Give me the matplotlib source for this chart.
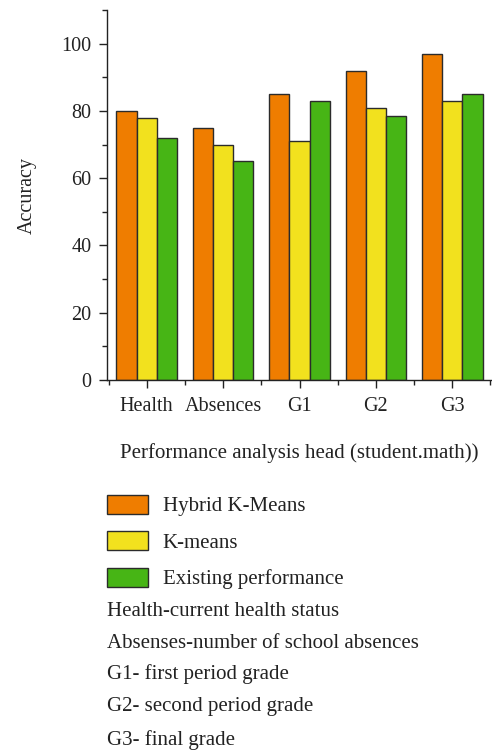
import numpy as np
import matplotlib
matplotlib.use("Agg")
import matplotlib.pyplot as plt
from matplotlib.patches import Patch
from matplotlib.ticker import MultipleLocator

categories = ["Health", "Absences", "G1", "G2", "G3"]
series_names = ["Hybrid K-Means", "K-means", "Existing performance"]
hybrid_kmeans = [80, 75, 85, 92, 97]
kmeans = [78, 70, 71, 81, 83]
existing = [72, 65, 83, 78.5, 85]
notes = [
    "Health-current health status",
    "Absenses-number of school absences",
    "G1- first period grade",
    "G2- second period grade",
    "G3- final grade",
]

colors = ["#EF7D00", "#F2E11E", "#47B515"]
edge = "#2b2b2b"

plt.rcParams["font.family"] = ["Liberation Serif", "DejaVu Serif"]
plt.rcParams["font.size"] = 14.5

W, H = 492, 754
fig = plt.figure(figsize=(W / 100, H / 100), dpi=100)
ax = fig.add_axes([107 / W, 1 - 380 / H, 1 - 107 / W, (380 - 10) / H])

x = np.arange(len(categories))
width = 0.265
for i, (vals, c, name) in enumerate(zip([hybrid_kmeans, kmeans, existing], colors, series_names)):
    ax.bar(x + (i - 1) * width, vals, width, color=c, edgecolor=edge, linewidth=1.0, label=name)

ax.set_xlim(-0.52, 4.52)
ax.set_ylim(0, 110)
ax.yaxis.set_major_locator(MultipleLocator(20))
ax.yaxis.set_minor_locator(MultipleLocator(10))
ax.set_xticks(x)
ax.set_xticklabels(categories)
ax.set_xticks(np.arange(-0.5, 5, 1.0), minor=True)
for s in ["top", "right"]:
    ax.spines[s].set_visible(False)
for s in ["left", "bottom"]:
    ax.spines[s].set_color("#222222")
    ax.spines[s].set_linewidth(1.0)
ax.tick_params(axis="both", which="major", length=6, width=1.0, color="#222222",
               labelsize=14.5, labelcolor="#222222")
ax.tick_params(axis="y", which="major", pad=5)
ax.tick_params(axis="x", which="major", pad=6)
ax.tick_params(axis="both", which="minor", length=3.5, width=1.0, color="#222222")

ax.set_ylabel("Accuracy", fontsize=14.5, labelpad=18, color="#222222")
ax.set_xlabel("Performance analysis head (student.math))", fontsize=15,
              labelpad=20, color="#222222")

handles = [Patch(facecolor=c, edgecolor=edge, linewidth=1.0) for c in colors]
fig.legend(handles, series_names, loc="upper left",
           bbox_to_anchor=(107 / W, 1 - 495 / H), frameon=False,
           fontsize=15, handlelength=1.95, handleheight=1.0, labelcolor="#222222",
           handletextpad=0.72, labelspacing=0.72, borderpad=0, borderaxespad=0)

note_y = [612, 643, 674, 707, 740]
for t, yy in zip(notes, note_y):
    fig.text(107 / W, 1 - yy / H, t, fontsize=15, va="center", ha="left", color="#222222")

fig.savefig("out.png", dpi=100)
